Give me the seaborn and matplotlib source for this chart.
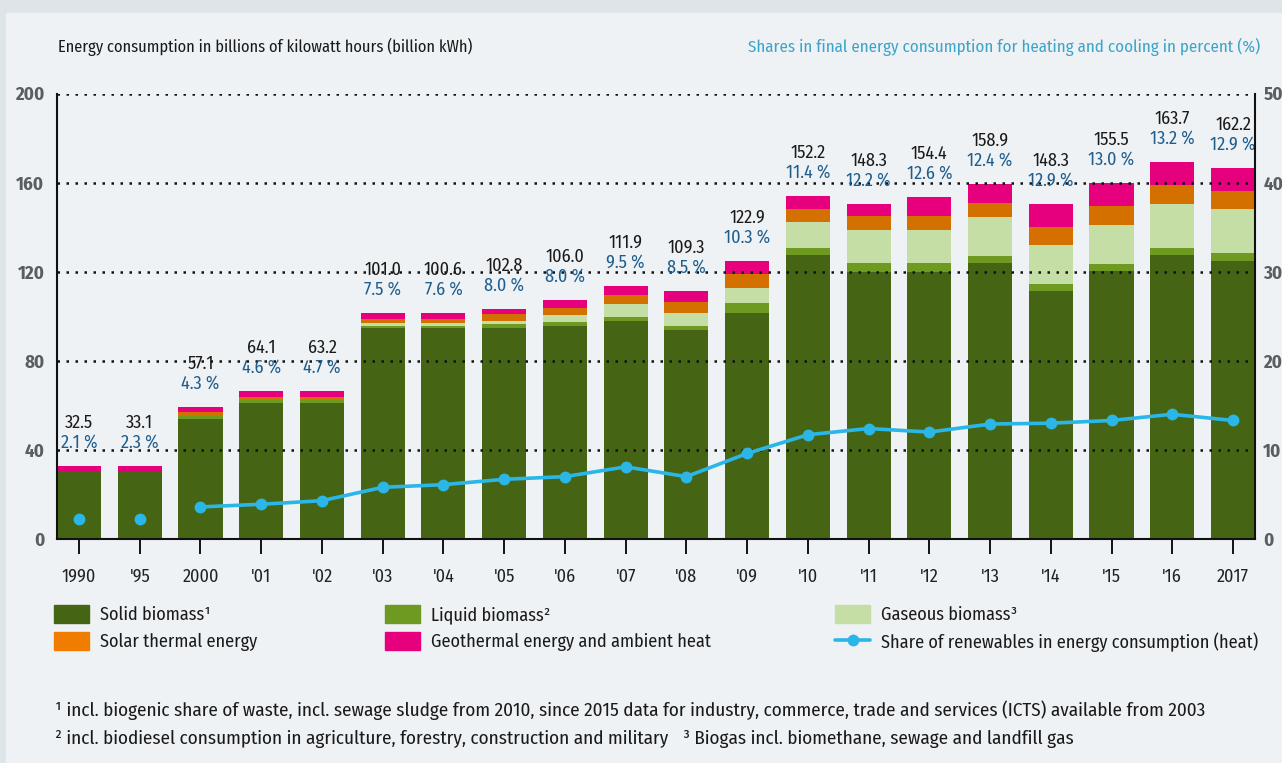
import pandas as pd
import seaborn as sns
import matplotlib.pyplot as plt
from matplotlib import font_manager
from matplotlib.patches import Patch, Rectangle
from matplotlib.lines import Line2D

years = ["1990", "'95", "2000", "'01", "'02", "'03", "'04", "'05", "'06", "'07",
         "'08", "'09", "'10", "'11", "'12", "'13", "'14", "'15", "'16", "2017"]

solid = [29.9, 29.9, 54.0, 61.1, 61.1, 94.8, 94.8, 94.8, 95.7, 97.9,
         93.9, 101.5, 127.5, 119.9, 119.9, 123.9, 111.4, 120.3, 127.5, 124.8]
liquid = [0, 0, 1.2, 1.2, 1.2, 0.9, 0.9, 1.6, 1.6, 1.8,
          1.8, 4.5, 3.1, 4.0, 4.0, 3.2, 3.1, 3.2, 3.1, 3.6]
gaseous = [0, 0, 0, 0, 0, 1.3, 1.3, 1.3, 3.3, 5.8,
           5.8, 6.7, 11.7, 14.8, 14.8, 17.5, 17.5, 17.5, 19.7, 19.7]
solar = [0, 0, 1.9, 1.3, 1.3, 1.8, 1.8, 3.1, 3.0, 4.0,
         4.9, 6.3, 5.8, 6.3, 6.3, 6.3, 8.1, 8.5, 8.5, 8.1]
geo = [2.9, 2.9, 2.1, 2.8, 2.8, 2.5, 2.5, 2.4, 3.7, 4.0,
       4.9, 5.8, 5.8, 5.4, 8.5, 8.5, 10.3, 10.3, 10.3, 10.3]

total_labels = [32.5, 33.1, 57.1, 64.1, 63.2, 101.0, 100.6, 102.8, 106.0, 111.9,
                109.3, 122.9, 152.2, 148.3, 154.4, 158.9, 148.3, 155.5, 163.7, 162.2]
share_labels = [2.1, 2.3, 4.3, 4.6, 4.7, 7.5, 7.6, 8.0, 8.0, 9.5,
                8.5, 10.3, 11.4, 12.2, 12.6, 12.4, 12.9, 13.0, 13.2, 12.9]
# share line as drawn in the chart (right axis)
share_line = [2.2, 2.3, 3.6, 3.9, 4.3, 5.8, 6.1, 6.7, 7.0, 8.1,
              7.0, 9.6, 11.7, 12.4, 12.0, 12.9, 13.0, 13.3, 14.0, 13.3]
line_segment = [0, 1] + [2] * 18

col_solid = "#466514"
col_liquid = "#6e9a22"
col_gas = "#c5dea5"
col_solar = "#d47000"
col_solar_leg = "#f07d00"
col_geo = "#e6007e"
col_line = "#2bb6e8"
bg = "#eef2f5"
grey = "#585e62"

sns.set_theme(style="white")
# condensed face if there is one, else plain Liberation Sans
installed = {f.name for f in font_manager.fontManager.ttflist}
wanted = ["Fira Sans Condensed", "Encode Sans Condensed", "Asap Condensed",
          "Archivo Narrow", "Liberation Sans Narrow", "Liberation Sans"]
face = next(n for n in wanted if n in installed)
plt.rcParams["font.family"] = [face, "DejaVu Sans"]
plt.rcParams["xtick.bottom"] = True
plt.rcParams["xtick.direction"] = "out"
plt.rcParams["xtick.major.size"] = 11
plt.rcParams["xtick.major.width"] = 1.4
plt.rcParams["xtick.major.pad"] = 10
plt.rcParams["xtick.color"] = "#111111"

W, H = 1282, 763
fig = plt.figure(figsize=(W / 100, H / 100), dpi=100, facecolor="#dee5e9")
fig.patches.append(Rectangle((6 / W, 0), 1 - 6 / W, 1 - 13 / H, transform=fig.transFigure,
                             color=bg, zorder=-1))

ax = fig.add_axes([57 / W, 224 / H, 1198 / W, 445.5 / H])
ax.set_facecolor(bg)

df = pd.DataFrame({"year": years, "solid": solid, "liquid": liquid, "gaseous": gaseous,
                   "solar": solar, "geo": geo})
layers = [("solid", col_solid), ("liquid", col_liquid), ("gaseous", col_gas),
          ("solar", col_solar), ("geo", col_geo)]
cum = df[[name for name, _ in layers]].cumsum(axis=1)

# draw cumulative totals from the top layer down so each shorter bar covers the one behind
for name, color in reversed(layers):
    sns.barplot(x=df["year"], y=cum[name], color=color, saturation=1, width=0.725,
                edgecolor="none", linewidth=0, ax=ax)

bar_tops = cum["geo"]
for i in range(len(years)):
    ax.text(i, bar_tops[i] + 19.5, f"{total_labels[i]:.1f}", ha="center", va="center",
            fontsize=13, color="#1a1a1a", zorder=5)
    ax.text(i, bar_tops[i] + 10.5, f"{share_labels[i]:.1f} %", ha="center", va="center",
            fontsize=13, color="#1f5d8c", zorder=5)

ax.set_xlim(-0.3625, len(years) - 1 + 0.3625)
ax.set_ylim(0, 200)
ax.set_yticks(range(0, 201, 40))
ax.set_xlabel("")
ax.set_ylabel("")
ax.set_axisbelow(False)
ax.yaxis.grid(True, color="#111111", linestyle=(0, (1, 2.6)), linewidth=1.8)
ax.xaxis.grid(False)
for side in ["top", "right"]:
    ax.spines[side].set_visible(False)
for side in ["left", "bottom"]:
    ax.spines[side].set_color("#111111")
    ax.spines[side].set_linewidth(1.5)

ax2 = ax.twinx()
line_df = pd.DataFrame({"pos": range(len(years)), "share": share_line, "seg": line_segment})
sns.lineplot(data=line_df, x="pos", y="share", units="seg", estimator=None, color=col_line,
             linewidth=2.6, marker="o", markersize=8.5, markeredgewidth=0, ax=ax2)
ax2.set_ylim(0, 50)
ax2.set_yticks(range(0, 51, 10))
ax2.set_xlim(ax.get_xlim())
ax2.set_xlabel("")
ax2.set_ylabel("")
ax2.grid(False)
ax2.tick_params(axis="y", length=0, pad=6, labelsize=13.5, labelcolor=grey)
for lab in ax2.get_yticklabels():
    lab.set_fontweight("bold")
for side in ["top", "left", "bottom"]:
    ax2.spines[side].set_visible(False)
ax2.spines["right"].set_color("#111111")
ax2.spines["right"].set_linewidth(1.5)

# tick styling for the main axes last, after the twin has been set up
ax.tick_params(axis="x", direction="out", length=11, width=1.4, color="#111111", pad=10,
               labelsize=13, labelcolor="#222222", bottom=True, labelbottom=True)
ax.tick_params(axis="y", length=0, pad=9, labelsize=13.5, labelcolor=grey)
for lab in ax.get_yticklabels():
    lab.set_fontweight("bold")

fig.text(58 / W, 1 - 47 / H, "Energy consumption in billions of kilowatt hours (billion kWh)",
         fontsize=11.8, color="#1a1a1a", va="center", ha="left")
fig.text(1260 / W, 1 - 47 / H,
         "Shares in final energy consumption for heating and cooling in percent (%)",
         fontsize=12.2, color="#3ea3c9", va="center", ha="right")

leg_kw = dict(frameon=False, fontsize=13.1, handlelength=1.94, handleheight=1.17,
              handletextpad=0.6, labelspacing=0.45, borderpad=0, borderaxespad=0,
              loc="upper left", labelcolor="#1a1a1a")
fig.legend(handles=[Patch(color=col_solid, label="Solid biomass¹"),
                    Patch(color=col_solar_leg, label="Solar thermal energy")],
           bbox_to_anchor=(54 / W, 1 - 605 / H), **leg_kw)
fig.legend(handles=[Patch(color=col_liquid, label="Liquid biomass²"),
                    Patch(color=col_geo, label="Geothermal energy and ambient heat")],
           bbox_to_anchor=(385 / W, 1 - 605 / H), **leg_kw)
fig.legend(handles=[Patch(color=col_gas, label="Gaseous biomass³"),
                    Line2D([], [], color=col_line, linewidth=2.6, marker="o", markersize=8.5,
                           markeredgewidth=0, label="Share of renewables in energy consumption (heat)")],
           bbox_to_anchor=(835 / W, 1 - 605 / H), **leg_kw)

fig.text(55 / W, 1 - 710 / H,
         "¹ incl. biogenic share of waste, incl. sewage sludge from 2010, since 2015 data for industry, "
         "commerce, trade and services (ICTS) available from 2003",
         fontsize=13.75, color="#1a1a1a", va="center", ha="left")
fig.text(55 / W, 1 - 739 / H,
         "² incl. biodiesel consumption in agriculture, forestry, construction and military",
         fontsize=13.75, color="#1a1a1a", va="center", ha="left")
fig.text(683 / W, 1 - 739 / H, "³ Biogas incl. biomethane, sewage and landfill gas",
         fontsize=13.75, color="#1a1a1a", va="center", ha="left")

fig.savefig("out.png", dpi=100, facecolor=fig.get_facecolor())
